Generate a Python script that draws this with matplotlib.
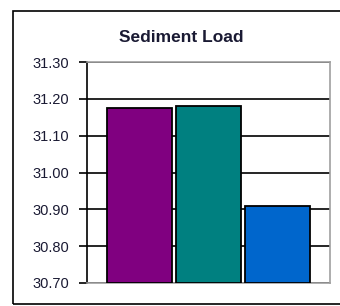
import matplotlib
matplotlib.use("Agg")
import matplotlib.pyplot as plt
from matplotlib.patches import Rectangle

# data
title = "Sediment Load"
series = ["A", "B", "C"]
values = [31.175, 31.18, 30.91]
colors = ["#800080", "#008080", "#0066CC"]
yticks = [30.70, 30.80, 30.90, 31.00, 31.10, 31.20, 31.30]

plt.rcParams['font.family'] = ['Liberation Sans', 'DejaVu Sans']

fig = plt.figure(figsize=(3.4, 3.06), dpi=100)
fig.patch.set_facecolor("white")

# outer chart frame (runs past the right edge like the original)
fig.patches.append(Rectangle((13 / 340, 2 / 306), 1.2, 293 / 306,
                             transform=fig.transFigure, fill=False,
                             edgecolor="black", linewidth=1.2))

ax = fig.add_axes([87 / 340, 1 - 283 / 306, 243 / 340, 221 / 306])
x = range(len(values))
ax.bar(x, [v - yticks[0] for v in values], bottom=yticks[0], width=0.93,
       color=colors, edgecolor="black", linewidth=1.3, zorder=3)

ax.set_xlim(-0.76, 2.76)
ax.set_ylim(yticks[0], yticks[-1])
ax.set_yticks(yticks)
ax.set_yticklabels([f"{t:.2f}" for t in yticks], fontsize=10.5,
                   color="#1a1a33")
ax.set_xticks([])
ax.yaxis.grid(True, color="black", linewidth=1.2, zorder=0)
ax.tick_params(axis="y", direction="out", length=6, width=1.2, pad=7)

for s in ["top", "right", "bottom"]:
    ax.spines[s].set_color("#a0a0a0")
    ax.spines[s].set_linewidth(1.2)
ax.spines["left"].set_color("black")
ax.spines["left"].set_linewidth(1.2)

fig.text(181 / 340, 1 - 38 / 306, title, ha="center", va="center",
         fontsize=12.5, fontweight="bold", color="#1a1a33")

fig.savefig("out.png", dpi=100)
